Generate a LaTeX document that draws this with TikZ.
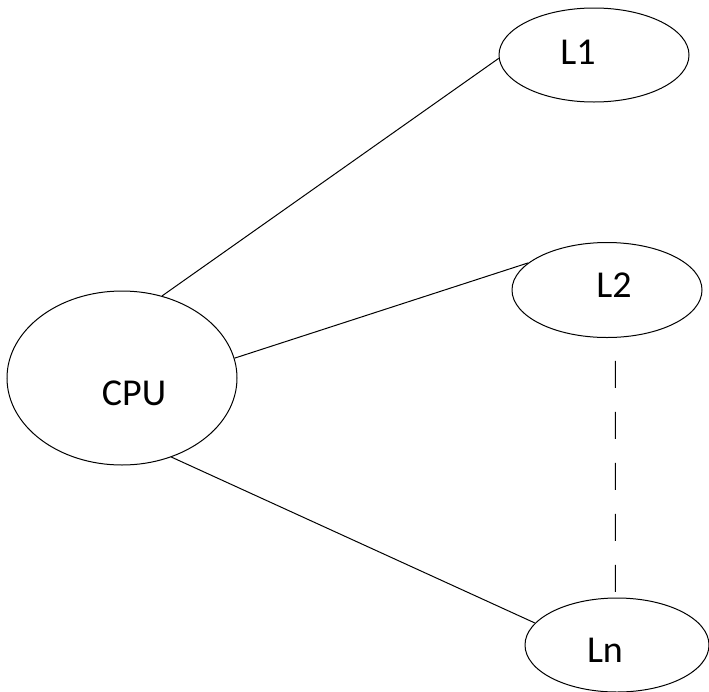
\documentclass[tikz,border=0pt]{standalone}
\usepackage{fontspec}
\setmainfont{Carlito}
\usetikzlibrary{shapes.geometric}

\begin{document}
\begin{tikzpicture}[x=1pt,y=-1pt,line width=1pt,
	unit/.style={ellipse,draw,inner sep=0pt},
	tag/.style={font=\fontsize{38}{42}\selectfont}]
		\useasboundingbox (0,0) rectangle (709,691);
		\node[unit,minimum width=230pt,minimum height=174pt,
			label={[tag,xshift=12pt,yshift=-15pt]center:CPU}](cpu) at (122,378) {};
		\node[unit,minimum width=190pt,minimum height=94pt,
			label={[tag,xshift=-16pt,yshift=3pt]center:L1}](l1) at (594,55) {};
		\node[unit,minimum width=190pt,minimum height=95pt,
			label={[tag,xshift=7pt,yshift=5pt]center:L2}](l2) at (607,290) {};
		\node[unit,minimum width=184pt,minimum height=94pt,
			label={[tag,xshift=-12pt,yshift=-5pt]center:Ln}](ln) at (617,645) {};
		% buses from the cpu
		\path[draw]
		(cpu.64) -- (l1.182)
		(cpu.10) -- (l2.161)
		(cpu.-58) -- (ln.165);
		% the levels left out
		\draw[dash pattern=on 27pt off 24pt,dash phase=28pt] (l2.-80) -- (ln.92);
		\end{tikzpicture}
\end{document}
